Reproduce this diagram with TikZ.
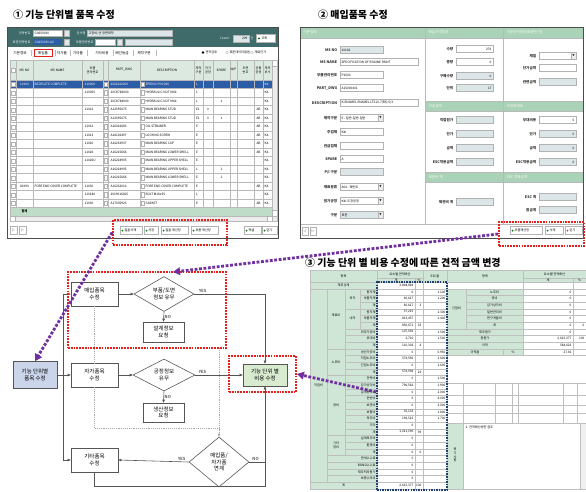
\documentclass[tikz,border=0pt]{standalone}
\usepackage{fontspec}
\setmainfont{Noto Sans CJK KR}
\usetikzlibrary{arrows.meta,shapes.geometric,positioning,calc}

\definecolor{barteal}{HTML}{3F6B6B}
\definecolor{hdrgreen}{HTML}{DCE9E0}
\definecolor{footgreen}{HTML}{BFDCC8}
\definecolor{cellgreen}{HTML}{CFE6D6}
\definecolor{secgreen}{HTML}{A9D2B6}
\definecolor{selblue}{HTML}{2D5DA6}
\definecolor{fieldgray}{HTML}{DCE6E9}
\definecolor{markred}{HTML}{E3211C}
\definecolor{markpurple}{HTML}{7030A0}
\definecolor{markblue}{HTML}{1F3F73}
\definecolor{boxblue}{HTML}{CBD5EA}
\definecolor{boxgreen}{HTML}{D8EBCF}
\definecolor{flowgray}{HTML}{555555}

\newcommand{\flowfont}{\fontsize{4.7}{5.7}\selectfont}
\newcommand{\tinyfont}{\fontsize{2.7}{3.2}\selectfont}
\newcommand{\labfont}{\fontsize{3.1}{3.7}\selectfont}
\newcommand{\titlefont}{\fontsize{8.5}{10}\selectfont\bfseries}

% form field: label-x, y, label, box width, fill, value
\newcommand{\formfield}[6]{%
  \node[formlabel, anchor=east] at (#1,#2) {#3};
  \draw[formbox, fill=#5] (#1+2,#2-3.5) rectangle ++(#4,7);
  \node[tinytext, anchor=west] at (#1+3,#2) {#6};}
\newcommand{\numfield}[6]{%
  \node[formlabel, anchor=east] at (#1,#2) {#3};
  \draw[formbox, fill=#5] (#1+2,#2-3.5) rectangle ++(#4,7);
  \node[tinytext, anchor=east] at (#1+#4+1,#2) {#6};}
\newcommand{\dropbtn}[2]{%
  \draw[formbox, fill=gray!15] (#1-5,#2-3.5) rectangle ++(5,7);
  \node[font=\fontsize{2}{2}\selectfont, inner sep=0pt] at (#1-2.5,#2) {▼};}

\tikzset{
  box/.style={draw=flowgray, fill=white, line width=0.5pt, align=center, font=\flowfont,
    inner sep=0.5pt, minimum width=1.41cm, minimum height=0.72cm},
  reqbox/.style={box, minimum width=1.23cm, minimum height=0.6cm},
  decision/.style={diamond, draw=flowgray, fill=white, line width=0.5pt, align=center,
    font=\flowfont, inner sep=0pt, aspect=1.7},
  flow/.style={-{Triangle[length=2.6pt,width=2.2pt]}, draw=flowgray, line width=0.5pt},
  link/.style={draw=flowgray, line width=0.5pt},
  guide/.style={draw=gray!70, line width=0.4pt, dash pattern=on 0.8pt off 0.8pt},
  yesno/.style={font=\fontsize{3.6}{4}\selectfont, inner sep=0.6pt},
  redmark/.style={draw=markred, line width=1.5pt, dash pattern=on 1.5pt off 0.9pt, inner sep=0pt},
  bluemark/.style={draw=markblue, line width=1.3pt, dash pattern=on 1.3pt off 0.9pt, inner sep=0pt},
  jump/.style={draw=markpurple, line width=2.4pt, dash pattern=on 2.4pt off 1.4pt,
    -{Triangle[length=6pt,width=6.5pt]}},
  titletext/.style={font=\titlefont, inner sep=0pt},
  tinytext/.style={font=\tinyfont, inner sep=0.3pt},
  hdrtext/.style={font=\tinyfont, inner sep=0.3pt, align=center},
  labtext/.style={font=\labfont, inner sep=0.3pt},
  formlabel/.style={font=\labfont\bfseries, inner sep=0.5pt, text=black!80},
  barlabel/.style={font=\tinyfont, text=white, inner sep=0.3pt},
  gridline/.style={draw=gray!55, line width=0.3pt},
  cellline/.style={draw=gray!50, line width=0.3pt},
  winframe/.style={draw=gray!60!black, line width=0.5pt},
  formbox/.style={draw=gray!60, line width=0.3pt},
  btn/.style={draw=gray!60, fill=white, line width=0.3pt}
}

\begin{document}
\begin{tikzpicture}[x=0.03cm, y=-0.03cm]
\useasboundingbox (0,0) rectangle (586,491);
\fill[white] (0,0) rectangle (586,491);

% ---------- screen 1 : item list ----------
\node[titletext, anchor=west] (title1) at (13,15) {① 기능 단위별 품목 수정};
\fill[white] (7,27) rectangle (278,238);
\fill[barteal] (7,27) rectangle (278,47);
\node[barlabel, anchor=east] at (31,33) {견적번호};
\draw[formbox, fill=white] (33,30) rectangle (62,36);
\node[tinytext, anchor=west] at (34,33) {G0650030};
\draw[formbox, fill=gray!20] (64,30) rectangle (69,36);
\node[barlabel, anchor=east] at (86,33) {공사명};
\draw[formbox, fill=fieldgray] (87,30) rectangle (172,36);
\node[tinytext, anchor=west] at (88,33) {고정비/선 정면제작};
\node[barlabel, anchor=east] at (31,42) {표준견적번호};
\fill[selblue] (33,39) rectangle (62,45);
\node[tinytext, text=white, anchor=west] at (34,42) {G0650030-A0};
\draw[formbox, fill=gray!20] (64,39) rectangle (69,45);
\node[barlabel, anchor=east] at (94,42) {부품관리번호};
\draw[formbox, fill=white] (95,39) rectangle (115,45);
\draw[formbox, fill=gray!20] (117,39) rectangle (122,45);
\draw[formbox, fill=fieldgray] (125,39) rectangle (172,45);
\node[barlabel, anchor=east] at (231,38.5) {Count :};
\draw[formbox, fill=fieldgray] (233,35) rectangle (249,42);
\node[tinytext, anchor=east] at (248,38.5) {209};
\node[barlabel] at (252,38.5) {건};
\draw[btn] (256,34.5) rectangle (275,42.5);
\fill[green!50!black] (259,38.5) circle (1.2);
\node[tinytext, anchor=west] at (261,38.5) {조회};

% tabs
\foreach \x/\t in {20/기본정보, 43/매입품, 62/자가품, 78/기타품, 102/기타비용, 122/배선등급, 144/제작구분}
  \node[labtext] at (\x,53) {\t};
\foreach \x in {31,55,70,87,113,133,156}
  \draw[gridline] (\x,50) -- (\x,56);
\draw[markred, line width=0.4pt] (34,49.5) rectangle (52,56.5);
\fill (203,52.5) circle (1.3);
\draw[gridline] (227,52.5) circle (1.3);
\draw[gridline] (252,52.5) circle (1.3);
\node[tinytext, anchor=west] at (205,52.5) {견적검토};
\node[tinytext, anchor=west] at (229,52.5) {표준데이터없음};
\node[tinytext, anchor=west] at (254,52.5) {재료단가};

% grid of the list
\fill[hdrgreen] (10,60) rectangle (272,80);
\fill[selblue] (10,80) rectangle (272,88.5);
\fill[footgreen] (10,207.5) rectangle (272,216);
\foreach \x in {16,33,82,103,108,140,194,203,213,230,237,254,263}
  \draw[gridline] (\x,60) -- (\x,207.5);
\draw[gridline] (10,80) -- (272,80);
\draw[formbox, fill=white] (11.5,68) rectangle ++(3.5,4);
\foreach \x/\t in {24.5/MS NO, 57.5/MS NAME, 92.5/{부품\\관리번호}, 124/PART\_DWG, 167/DESCRIPTION,
    198.5/{제작\\구분}, 208/{자가\\공장}, 221.5/SPARE, 233.5/{W/P}, 245.5/{도면\\번호}, 258.5/{공통\\공정}, 267.5/{제작\\부서}}
  \node[hdrtext] at (\x,70) {\t};
\foreach \ms/\nm/\pn/\dw/\ds/\ty/\sa/\sp/\ab [count=\i] in {
    10100/BEDPLATE COMPLETE/110000/2062242000/SPRING PIN D45/L///,
    //110050/20CK784000/HYDRAULIC NUT M64/L///,
    ///20CK784000/HYDRAULIC NUT M64/L//1/,
    //11012/A12595675/MAIN BEARING STUD/E1/0//AB,
    ///A12595675/MAIN BEARING STUD/E1/0/1/AB,
    //11012/A16016683/OIL STRAINER/E///AB,
    //11013/A16136497/LOCKING SCREW/E///AB,
    //11020/A16232937/MAIN BEARING CAP/E///AB,
    //11026/A16215666/MAIN BEARING LOWER SHELL/E///AB,
    //11026U/A16224905/MAIN BEARING UPPER SHELL/E///,
    ///A16224905/MAIN BEARING UPPER SHELL/L//1/,
    ///A16215666/MAIN BEARING LOWER SHELL/E//1/,
    80190/FORE END COVER COMPLETE/11030/A16232014/FORE END COVER COMPLETE/E///AB,
    //110180/2019016005/BOLT M16x35/L///,
    //11030/A17505923/GASKET/E///AB}
{
  \pgfmathsetmacro{\ry}{80+8.5*(\i-0.5)}
  \ifnum\i=1 \def\rc{white}\else\def\rc{black}\fi
  \draw[gridline] (10,\ry+4.25) -- (272,\ry+4.25);
  \draw[formbox, fill=white] (11.5,\ry-2) rectangle ++(3.5,4);
  \node[tinytext, text=\rc] at (24.5,\ry) {\ms};
  \node[tinytext, text=\rc, anchor=west] at (34,\ry) {\nm};
  \node[tinytext, text=\rc, anchor=west] at (84,\ry) {\pn};
  \draw[formbox, fill=white] (104,\ry-2.2) rectangle ++(3.5,4.4);
  \node[tinytext, text=\rc, anchor=west] at (110,\ry) {\dw};
  \draw[formbox, fill=white] (140.7,\ry-2.2) rectangle ++(3.5,4.4);
  \node[tinytext, text=\rc, anchor=west] at (145,\ry) {\ds};
  \node[tinytext, text=\rc, anchor=west] at (195.5,\ry) {\ty};
  \node[tinytext, text=\rc] at (208,\ry) {\sa};
  \node[tinytext, text=\rc] at (221.5,\ry) {\sp};
  \node[tinytext, text=\rc] at (258.5,\ry) {\ab};
  \node[tinytext, text=\rc, anchor=west] at (264,\ry) {K4-};
}
\node[tinytext, font=\tinyfont\bfseries] at (24.5,211.75) {합계};
\fill[gray!15] (272,60) rectangle (277,216);
\draw[gridline] (272,60) rectangle (277,216);
\draw[btn] (272,60) rectangle (277,66);
\draw[btn] (272,210) rectangle (277,216);
\fill[gray!15] (10,216) rectangle (277,221);
\draw[gridline] (10,216) rectangle (277,221);
\draw[btn] (10,216) rectangle (15,221);
\draw[btn] (267,216) rectangle (272,221);
\draw[gridline] (10,60) rectangle (277,221);

% buttons of screen 1
\foreach \x in {10,19}
  {\draw[btn] (\x,226) rectangle ++(7,8);
   \node[tinytext] at (\x+3.5,230) {▷};}
\foreach \x/\w/\t in {120/22/일괄삭제, 144/14/저장, 161/27/일괄 재산정, 191/27/부품 재산정, 244/17/엑셀, 262/15/닫기}
  {\draw[btn] (\x,226.5) rectangle ++(\w,8);
   \fill[green!50!black] (\x+2.5,230.5) circle (1);
   \node[tinytext, anchor=west] at (\x+4,230.5) {\t};}
\draw[winframe] (7,27) rectangle (278,238);

% ---------- screen 2 : purchased item ----------
\node[titletext, anchor=west] (title2) at (318,15) {② 매입품목 수정};
\fill[white] (300,27) rectangle (583,238);
\fill[secgreen] (300,27) rectangle (583,38);
\fill[secgreen] (425,101) rectangle (583,111);
\fill[secgreen] (425,172) rectangle (583,182);
\draw[gridline] (300,38) -- (583,38);
\draw[gridline] (425,101) -- (583,101);
\draw[gridline] (425,111) -- (583,111);
\draw[gridline] (425,172) -- (583,172);
\draw[gridline] (425,182) -- (583,182);
\draw[gridline] (425,27) -- (425,224);
\draw[gridline] (503,27) -- (503,224);
\draw[gridline] (300,224) -- (583,224);
\node[labtext, text=white, anchor=west] at (303,32.5) {기본정보};
\node[labtext, text=white, anchor=west] at (428,32.5) {매입가격정보};
\node[labtext, text=white, anchor=west] at (506,32.5) {가공단가정보(표준단가)};
\node[labtext, text=white, anchor=west] at (428,106) {가공금액};
\node[labtext, text=white, anchor=west] at (506,106) {수정부대비};
\node[labtext, text=white, anchor=west] at (428,177) {제관비 계};
\node[labtext, text=white, anchor=west] at (506,177) {ESC 적용금액};
\formfield{338}{50}{MS NO}{43}{fieldgray}{10102}
\formfield{338}{62}{MS NAME}{78}{white}{SPECIFICATION OF ENGINE PAINT}
\formfield{338}{75}{부품관리번호}{43}{white}{P1000}
\formfield{338}{88}{PART\_DWG}{43}{white}{A15000401}
\formfield{338}{103}{DESCRIPTION}{78}{white}{K-ENAMEL ENAMEL LT513-7(RS) 5/3}
\formfield{338}{118}{제작구분}{43}{white}{E - 일반-일반-일반}
\dropbtn{383}{118}
\formfield{338}{132}{주업체}{43}{white}{K4I}
\formfield{338}{146}{관급업체}{43}{white}{}
\formfield{338}{159}{SPARE}{43}{white}{A}
\formfield{338}{172}{P/I 구분}{43}{fieldgray}{}
\formfield{338}{187}{재료분류}{43}{white}{A04 - 페인트}
\dropbtn{383}{187}
\formfield{338}{201}{원가공정}{43}{white}{K4I-도장공정}
\dropbtn{383}{201}
\formfield{338}{215}{구분}{43}{fieldgray}{표준}
\dropbtn{383}{215}
\numfield{454}{49}{수량}{37}{white}{276}
\numfield{454}{62}{중량}{37}{white}{0}
\numfield{454}{76}{구매수량}{37}{fieldgray}{0}
\numfield{454}{88}{단위}{37}{fieldgray}{LT}
\numfield{454}{120}{직접원가}{37}{fieldgray}{}
\numfield{454}{134}{단가}{37}{fieldgray}{}
\numfield{454}{148}{금액}{37}{fieldgray}{}
\numfield{454}{162}{ESC적용금액}{37}{fieldgray}{}
\numfield{454}{202}{제관비 계}{37}{fieldgray}{}
\numfield{537}{56}{재질}{37}{white}{}
\dropbtn{576}{56}
\numfield{537}{68}{단가금액}{37}{white}{}
\numfield{537}{82}{관련금액}{37}{fieldgray}{}
\numfield{537}{120}{부대비용}{37}{white}{0}
\numfield{537}{134}{단가}{37}{fieldgray}{0}
\numfield{537}{148}{금액}{37}{fieldgray}{0}
\numfield{537}{162}{ESC적용금액}{37}{fieldgray}{0}
\numfield{537}{197}{ESC 계}{37}{fieldgray}{}
\numfield{537}{210}{합금계}{37}{fieldgray}{}
\foreach \x/\t in {302/◁, 310/▷}
  {\draw[btn] (\x,227) rectangle ++(6,8);
   \node[tinytext] at (\x+3,231) {\t};}
\foreach \x/\w/\t/\c in {510/32/부품재산정/green!50!black, 545/18/삭제/green!50!black, 565/17/닫기/magenta!70!black}
  {\draw[btn] (\x,226.5) rectangle ++(\w,8);
   \fill[\c] (\x+2.5,230.5) circle (1);
   \node[tinytext, anchor=west] at (\x+4,230.5) {\t};}
\draw[winframe] (300,27) rectangle (583,238);

% ---------- screen 3 : estimate table ----------
\node[titletext, anchor=west] (title3) at (305,263) {③ 기능 단위 별 비용 수정에 따른 견적 금액 변경};
\fill[white] (310,270) rectangle (586,489);
\fill[cellgreen] (310,270) rectangle (586,282);
\fill[cellgreen] (310,282) rectangle (377,488.7);
\fill[cellgreen] (447,288.7) rectangle (523,355.4);
\fill[white] (447,282) rectangle (586,288.7);
% header
\draw[cellline] (377,278) -- (423,278);
\draw[cellline] (523,278) -- (586,278);
\draw[cellline] (310,282) -- (586,282);
\draw[cellline] (310,288.7) -- (447,288.7);
\node[tinytext] at (343.5,276) {항목};
\node[tinytext] at (400,274) {요소별 견적배산};
\node[tinytext] at (396,280) {계};
\node[tinytext] at (419,280) {\%};
\node[tinytext] at (435,276) {ESC율};
\node[tinytext] at (485,276) {항목};
\node[tinytext] at (554.5,274) {요소별 견적배산};
\node[tinytext] at (548,280) {계};
\node[tinytext] at (579.5,280) {\%};
\node[tinytext] at (343.5,285.4) {재무상계};
\node[tinytext, anchor=east] at (414,285.4) {3,848,884};
% left rows
\foreach \lx/\lab/\val/\pc/\es [count=\i] in {
    310/원자재/0//1.100, 360/부품자재/{60,617}//1.200, 360/계/{60,617}/3/,
    345/원자재/{37,215}//1.300, 360/부품자재/{813,457}//1.400, 360/계/{850,671}/33/,
    345/외주가공비/{107,592}//1.500, 345/부대비/{2,710}//1.500, 345/계/{110,302}/4/,
    327/생산가공비/0//0.950, 345/직접노무비/{574,596}//1.600, 345/간접노무비/0//1.600,
    345/계/{574,596}/22/, 327/전력비/0//1.500, 345/감가상각비/{796,562}//1.900,
    345/설계용역비/0//2.000, 345/운반비/0//4.000, 345/보관비/0//3.000,
    345/보험비/{35,133}//1.800, 345/외주비/{196,515}//1.700, 345/기타/0//,
    345/계/{1,011,190}/39/, 327/설계외주비/0//, 345/환경비/0//, 345/계/0/0/,
    327/관세수수료/0//, 327/BOND수수료/0//, 327/재무처리원가/0//, 327/보증수리비/0//}
{
  \pgfmathsetmacro{\ry}{288.7+6.67*(\i-1)}
  \draw[cellline] (\lx,\ry) -- (447,\ry);
  \node[tinytext, anchor=east] at (376,\ry+3.33) {\lab};
  \node[tinytext, anchor=east] at (414,\ry+3.33) {\val};
  \node[tinytext, anchor=east] at (422,\ry+3.33) {\pc};
  \node[tinytext, anchor=east] at (446,\ry+3.33) {\es};
}
\draw[cellline] (310,482.1) -- (447,482.1);
\node[tinytext] at (343.5,485.4) {계};
\node[tinytext, anchor=east] at (414,485.4) {2,615,377};
\node[tinytext, anchor=east] at (422,485.4) {100};
\draw[cellline] (327,288.7) -- (327,482.1);
\draw[cellline] (345,288.7) -- (345,455.4);
\draw[cellline] (360,288.7) -- (360,328.7);
\foreach \x in {377,423,447}
  \draw[cellline] (\x,270) -- (\x,488.7);
\draw[cellline] (415,278) -- (415,488.7);
\node[tinytext] at (318.5,385) {직접비};
\node[tinytext] at (336,315) {재료비};
\node[tinytext] at (352.5,298.7) {외자};
\node[tinytext] at (352.5,318.7) {내자};
\node[tinytext] at (336,362.4) {노무비};
\node[tinytext] at (336,405.4) {경비};
\node[hdrtext] at (336,445.4) {기타\\경비};
% right rows
\foreach \lx/\lc/\lab/\val/\pc [count=\i] in {
    447/494.5/노무비/0/, 466/494.5/경비/0/, 466/494.5/감가상각비/0/,
    466/494.5/일반관리비/0/, 466/494.5/연구개발비/0/, 466/494.5/계/0/0,
    447/485/제조원가/0/, 447/485/총원가/{2,615,377}/100, 447/485/이익/{584,623}/,
    447/475/이익율/27.36/}
{
  \pgfmathsetmacro{\ry}{288.7+6.67*(\i-1)}
  \draw[cellline] (\lx,\ry) -- (586,\ry);
  \node[tinytext] at (\lc,\ry+3.33) {\lab};
  \node[tinytext, anchor=east] at (572,\ry+3.33) {\val};
  \node[tinytext, anchor=east] at (585,\ry+3.33) {\pc};
}
\draw[cellline] (447,355.4) -- (586,355.4);
\draw[cellline] (523,270) -- (523,355.4);
\draw[cellline] (573,278) -- (573,355.4);
\draw[cellline] (466,288.7) -- (466,328.7);
\draw[cellline] (503,348.7) -- (503,355.4);
\node[tinytext] at (456.5,308.7) {간접비};
\node[tinytext] at (513,352.1) {\%};
% lower right grid and remarks
\draw[cellline] (447,383) rectangle (586,423);
\foreach \y in {395,405,413}
  \draw[cellline] (447,\y) -- (586,\y);
\foreach \x in {463,495,512,518,563,577}
  \draw[cellline] (\x,383) -- (\x,423);
\fill[cellgreen] (447,423) rectangle (463,488.7);
\node[hdrtext] at (455,455) {특\\기\\사\\항};
\node[tinytext, anchor=north west] at (465,425) {1. 견적배산방안 참조};
\fill[gray!12] (580,423) rectangle (586,488.7);
\draw[cellline] (447,423) rectangle (586,488.7);
\draw[cellline] (463,423) -- (463,488.7);
\draw[cellline] (580,423) -- (580,488.7);
\draw[cellline] (310,270) rectangle (586,488.7);

% ---------- flow chart ----------
\node[box, fill=boxblue, minimum width=1.32cm, minimum height=0.81cm] (func) at (35,375) {기능 단위별\\품목 수정};
\node[box] (buy) at (94.5,294) {매입품목\\수정};
\node[decision, minimum width=1.8cm, minimum height=1.05cm] (d1) at (164,294) {부품/도면\\정보 유무};
\node[reqbox] (req1) at (163.5,332) {설계정보\\요청};
\node[box] (self) at (94.5,375) {자가품목\\수정};
\node[decision, minimum width=1.86cm, minimum height=0.96cm] (d2) at (164,375) {공정정보\\유무};
\node[reqbox, minimum height=0.57cm] (req2) at (163.5,412.5) {생산정보\\요청};
\node[box, fill=boxgreen, minimum width=1.32cm, minimum height=0.66cm] (cost) at (265,375) {기능 단위 별\\비용 수정};
\node[box] (etc) at (94.5,460) {기타품목\\수정};
\node[decision, minimum width=1.8cm, minimum height=1.5cm, aspect=1.2] (d3) at (219,462) {매입품/\\자가품\\연계};

\coordinate (trunk) at (63,375);
\coordinate (linktop) at (219,348);
\coordinate (loop) at (265,486);
\draw[flow] (func) -- (self);
\draw[flow] (trunk) |- (buy.west);
\draw[flow] (trunk) |- (etc.west);
\draw[flow] (buy) -- (d1);
\draw[flow] (d1.east) -| (cost.north) node[pos=0.06, above, yesno] {YES};
\draw[flow] (d1.south) -- (req1.north) node[midway, right, yesno] {NO};
\draw[flow] (self) -- (d2);
\draw[flow] (d2.east) -- (cost.west) node[pos=0.15, above, yesno] {YES};
\draw[flow] (d2.south) -- (req2.north) node[midway, right, yesno] {NO};
\draw[flow] (d3.west) -- (etc.east) node[pos=0.1, above, yesno] {YES};
\draw[flow] (d3.east) -| (cost.south) node[pos=0.2, above, yesno] {NO};
\draw[link] (etc.south) |- (loop) -- (loop |- d3.east);
\draw[guide] (buy.south) -- (self.north);
\draw[guide] (self.south) |- (219,428);
\draw[guide, -{Triangle[length=2.6pt,width=2.2pt]}] (linktop) -- (d3.north);

% ---------- markers ----------
\node[redmark, minimum width=4.74cm, minimum height=2.28cm] (mark1) at (147,310) {};
\node[redmark, minimum width=2.01cm, minimum height=1.08cm] (mark2) at (262.5,374) {};
\node[redmark, minimum width=3.42cm, minimum height=0.75cm] (mark3) at (170,232.5) {};
\node[redmark, minimum width=2.56cm, minimum height=0.72cm] (mark4) at (541.7,234) {};
\node[bluemark, minimum width=2.1cm, minimum height=6.24cm] (markb) at (412,386) {};
\coordinate (p2end) at (173,272);
\draw[jump] (mark3.west) -- (func.north);
\draw[jump] (mark4.west) -- (p2end);
\draw[jump] ([yshift=-0.18cm]markb.west) -- (mark2.east);
\end{tikzpicture}
\end{document}
